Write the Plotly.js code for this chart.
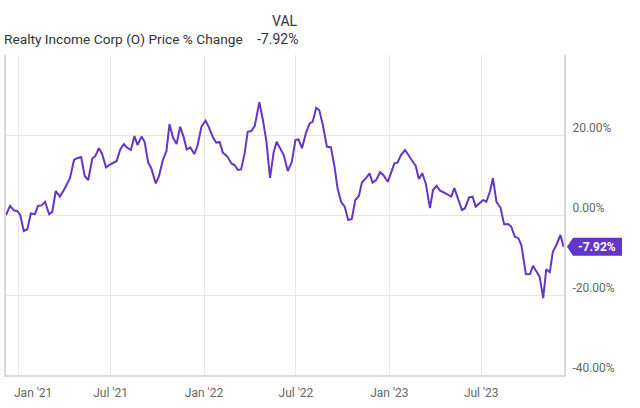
<!DOCTYPE html>
<html>
<head>
<meta charset="utf-8">
<script src="https://cdn.plot.ly/plotly-3.0.1.min.js"></script>
<style>html,body{margin:0;padding:0;background:#fff;}#chart{width:640px;height:408px;}</style>
</head>
<body>
<div id="chart"></div>
<script>
var dates = ['2020-12-07','2020-12-15','2020-12-23','2020-12-29','2021-01-04','2021-01-11','2021-01-18','2021-01-25','2021-02-02','2021-02-08','2021-02-15','2021-02-22','2021-03-02','2021-03-08','2021-03-15','2021-03-23','2021-03-31','2021-04-05','2021-04-12','2021-04-20','2021-04-26','2021-05-04','2021-05-11','2021-05-18','2021-05-26','2021-06-01','2021-06-08','2021-06-14','2021-06-22','2021-06-30','2021-07-06','2021-07-13','2021-07-20','2021-07-27','2021-08-02','2021-08-10','2021-08-17','2021-08-23','2021-08-31','2021-09-06','2021-09-13','2021-09-19','2021-09-28','2021-10-04','2021-10-12','2021-10-19','2021-10-25','2021-11-01','2021-11-08','2021-11-15','2021-11-22','2021-11-28','2021-12-05','2021-12-13','2021-12-19','2021-12-27','2022-01-04','2022-01-10','2022-01-19','2022-01-25','2022-02-01','2022-02-07','2022-02-16','2022-02-24','2022-03-02','2022-03-09','2022-03-15','2022-03-22','2022-03-28','2022-04-04','2022-04-11','2022-04-20','2022-04-27','2022-05-04','2022-05-11','2022-05-18','2022-05-24','2022-05-31','2022-06-07','2022-06-15','2022-06-23','2022-06-30','2022-07-06','2022-07-13','2022-07-21','2022-07-28','2022-08-03','2022-08-10','2022-08-16','2022-08-23','2022-08-31','2022-09-08','2022-09-15','2022-09-21','2022-09-28','2022-10-05','2022-10-12','2022-10-19','2022-10-26','2022-11-02','2022-11-08','2022-11-16','2022-11-23','2022-11-29','2022-12-06','2022-12-14','2022-12-20','2022-12-29','2023-01-04','2023-01-11','2023-01-17','2023-01-24','2023-02-01','2023-02-07','2023-02-14','2023-02-22','2023-02-28','2023-03-07','2023-03-14','2023-03-22','2023-03-28','2023-04-04','2023-04-11','2023-04-19','2023-04-25','2023-05-03','2023-05-09','2023-05-16','2023-05-24','2023-05-30','2023-06-07','2023-06-14','2023-06-20','2023-06-27','2023-07-05','2023-07-11','2023-07-18','2023-07-24','2023-07-31','2023-08-08','2023-08-15','2023-08-23','2023-08-29','2023-09-05','2023-09-12','2023-09-18','2023-09-27','2023-10-05','2023-10-11','2023-10-18','2023-10-24','2023-10-31','2023-11-06','2023-11-13','2023-11-19','2023-11-26','2023-12-04','2023-12-10'];

var pctChange = [0,2.3,1.1,1.0,0,-4,-3.6,0.4,0.2,2.3,2.4,3.3,0.2,0.7,6,4.6,6.25,7.5,9.2,13.75,14.2,14.5,9.75,8.75,14.1,14.75,16.7,15.4,11.9,12.6,13.1,13.5,16.4,17.7,16.9,16.25,19.75,17.5,19.6,18.3,13.1,11.7,7.9,9.6,13.75,16,22.7,19.3,17.75,22.1,19.4,16.4,16.9,15.25,17.25,22.1,23.6,22.1,19.3,18.1,18.2,15.6,14.6,12.9,12.5,11.25,11.4,15.4,20.8,21,22.3,28.2,23.75,18.3,9.3,15.6,18.3,16.8,15,11,13.3,18.75,18.9,16.7,20.6,22.9,23.3,26.8,26.25,22.5,17.1,16.9,12.1,6.7,3.3,2.1,-1.25,-1.0,3.75,4.75,8.1,9.2,10.4,8.1,8.75,10.7,10,8.3,10.4,12.9,13.1,15,16.25,15,13.75,12.25,9,10.4,7.75,1.7,6.25,7.3,6.1,5.6,5.2,4.6,6.7,4.2,1.25,1.7,4.4,4.6,2.1,2.9,3.75,3.3,5.8,9.2,3.3,1.8,-2.3,-2.25,-2.9,-5.4,-5.8,-7.5,-14.8,-14.75,-12.7,-14.2,-15.4,-20.8,-13.6,-14.3,-9.2,-7.5,-5,-7.92];

var xTickVals = ['2021-01-01','2021-07-01','2022-01-01','2022-07-01','2023-01-01','2023-07-01'];
var xTickText = ['', "Jul '21", "Jan '22", "Jul '22", "Jan '23", "Jul '23"];
var firstTickLabel = "Jan '21";
var yTickVals = [-40,-20,0,20,40];
var yTickText = ['-40.00%','-20.00%','0.00%','20.00%',''];
var titleText = 'Realty Income Corp (O) Price % Change';
var colHeader = 'VAL';
var lastValue = pctChange[pctChange.length-1];
var lastLabel = lastValue.toFixed(2) + '%';

var purple = '#6436c8';
var font = 'Roboto, Arial, sans-serif';

var trace = {
  x: dates, y: pctChange, type: 'scatter', mode: 'lines',
  line: {color: purple, width: 2}, hoverinfo: 'none'
};

var layout = {
  width: 640, height: 408,
  margin: {l: 6, r: 76, t: 55, b: 33},
  paper_bgcolor: '#fff', plot_bgcolor: '#fff',
  showlegend: false,
  font: {family: font, color: '#666', size: 12},
  xaxis: {
    type: 'date', range: ['2020-12-07', '2023-12-11'],
    tickvals: xTickVals, ticktext: xTickText,
    showgrid: true, gridcolor: '#e6e6e6', gridwidth: 1,
    showline: true, linecolor: '#d9d9d9', linewidth: 2,
    ticks: 'outside', ticklen: 6, tickcolor: 'rgba(0,0,0,0)', zeroline: false,
    tickfont: {family: font, size: 12, color: '#666'}
  },
  yaxis: {
    side: 'right', range: [-40, 40],
    tickvals: yTickVals, ticktext: yTickText,
    showgrid: true, gridcolor: '#e6e6e6', gridwidth: 1,
    showline: true, mirror: true, linecolor: '#d9d9d9', linewidth: 2,
    ticks: '', zeroline: false, ticklabelshift: -7, ticklabelstandoff: 4,
    tickfont: {family: font, size: 12, color: '#666'}
  },
  shapes: [{
    type: 'path', xref: 'paper', yref: 'y',
    xsizemode: 'pixel', ysizemode: 'pixel', xanchor: 1, yanchor: lastValue,
    path: 'M 3 0 L 9 9 L 58 9 L 58 -9 L 9 -9 Z',
    fillcolor: purple, line: {width: 0}
  }],
  annotations: [
    {xref: 'paper', yref: 'paper', x: -0.0018, xshift: -3, y: 1.05, xanchor: 'left', yanchor: 'middle',
     text: titleText, showarrow: false, font: {family: font, size: 13.7, color: '#333'}},
    {xref: 'paper', yref: 'paper', x: 0.5269, y: 1.107, xanchor: 'right', yanchor: 'middle',
     text: colHeader, showarrow: false, font: {family: font, size: 14, color: '#333'}},
    {xref: 'paper', yref: 'paper', x: 0.5269, y: 1.05, xanchor: 'right', yanchor: 'middle',
     text: lastLabel, showarrow: false, font: {family: font, size: 14, color: '#333'}},
    {xref: 'paper', yref: 'y', x: 1, y: lastValue, xshift: 33, xanchor: 'center', yanchor: 'middle',
     text: '<b>' + lastLabel + '</b>', showarrow: false, font: {family: font, size: 12, color: '#fff'}},
    {xref: 'paper', yref: 'paper', x: (33 - 6) / 558, y: 0, yshift: -18, xanchor: 'center', yanchor: 'middle',
     text: firstTickLabel, showarrow: false, font: {family: font, size: 12, color: '#666'}}
  ]
};

Plotly.newPlot('chart', [trace], layout, {staticPlot: true, displayModeBar: false});
</script>
</body>
</html>
